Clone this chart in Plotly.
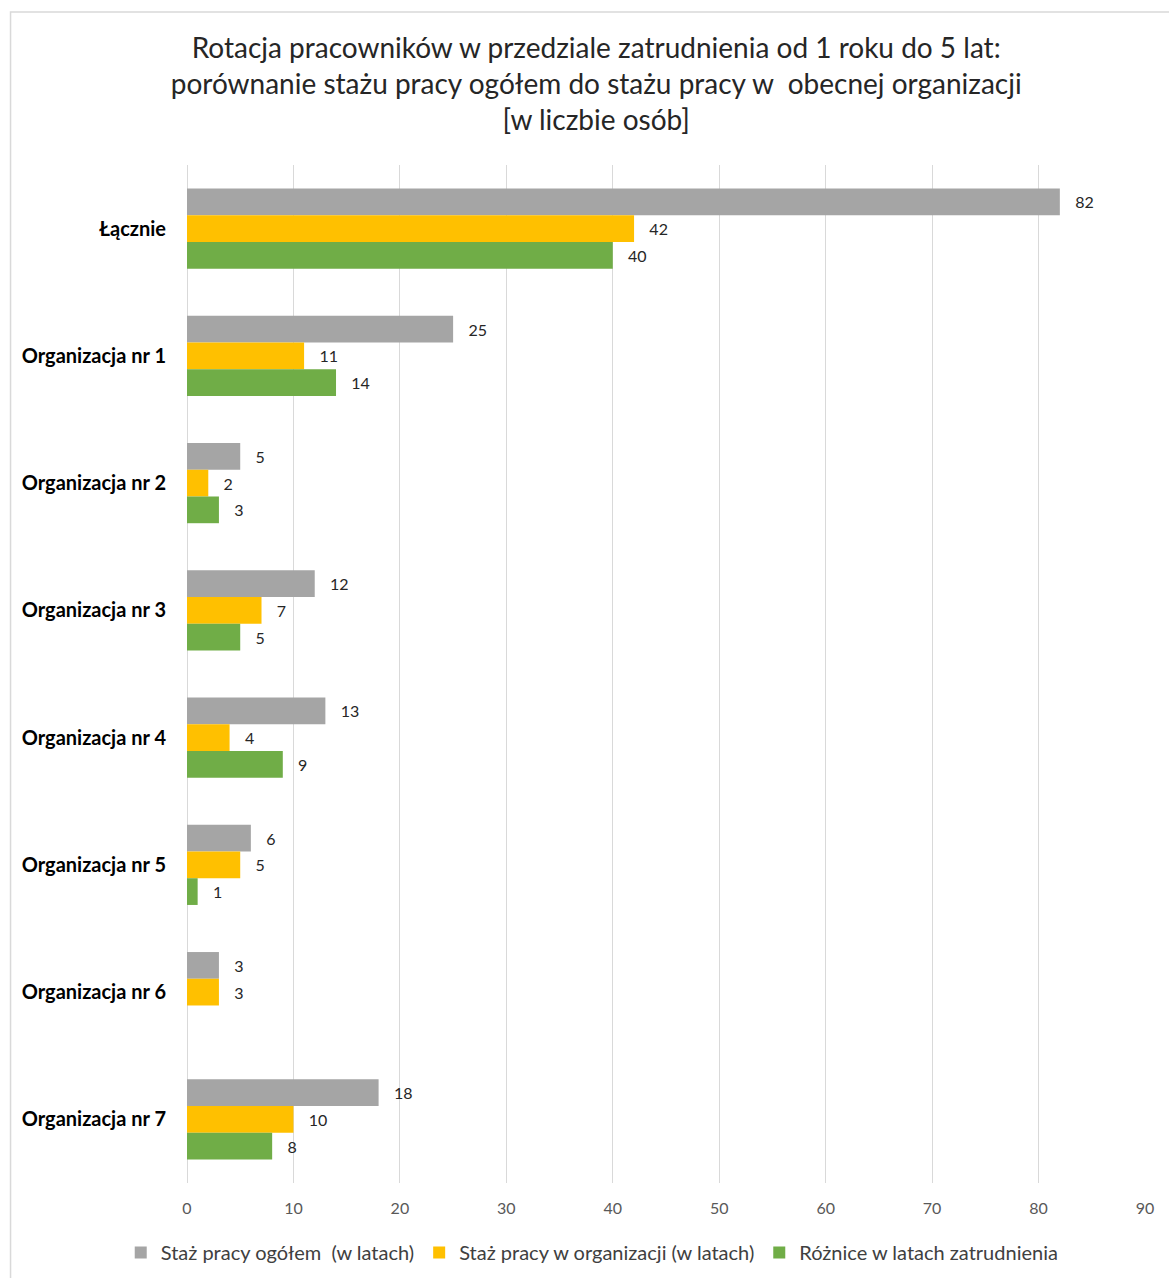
import plotly.graph_objects as go

categories = ["Łącznie", "Organizacja nr 1", "Organizacja nr 2", "Organizacja nr 3",
              "Organizacja nr 4", "Organizacja nr 5", "Organizacja nr 6", "Organizacja nr 7"]
staz_ogolem = [82, 25, 5, 12, 13, 6, 3, 18]
staz_w_organizacji = [42, 11, 2, 7, 4, 5, 3, 10]
roznice = [40, 14, 3, 5, 9, 1, None, 8]

series_names = ["Staż pracy ogółem  (w latach)",
                "Staż pracy w organizacji (w latach)",
                "Różnice w latach zatrudnienia"]
series_colors = ["#A5A5A5", "#FFC000", "#70AD47"]

FONT = "Lato, 'Open Sans', Arial, sans-serif"

fig = go.Figure()
for name, vals, col in zip(series_names, [staz_ogolem, staz_w_organizacji, roznice], series_colors):
    fig.add_trace(go.Bar(
        y=categories, x=vals, name=name, orientation="h",
        marker=dict(color=col, line=dict(width=0)),
        text=vals, texttemplate="   %{x}", textposition="outside",
        textfont=dict(family=FONT, size=16, color="#262626"),
        cliponaxis=False,
    ))

fig.update_layout(
    width=1169, height=1278,
    margin=dict(l=187, r=24, t=165, b=95, autoexpand=False),
    paper_bgcolor="white", plot_bgcolor="white",
    barmode="group", bargap=0.37, bargroupgap=0,
    title=dict(
        text="Rotacja pracowników w przedziale zatrudnienia od 1 roku do 5 lat:<br>"
             "porównanie stażu pracy ogółem do stażu pracy w  obecnej organizacji<br>"
             "[w liczbie osób]",
        x=0.51, xanchor="center", y=0.955, yanchor="top",
        font=dict(family=FONT, size=28, color="#262626"),
    ),
    font=dict(family=FONT),
    legend=dict(
        orientation="h", x=0.423, xanchor="center", y=-0.049, yanchor="top",
        font=dict(family=FONT, size=20, color="#404040"),
        traceorder="normal", itemwidth=30,
    ),
    xaxis=dict(
        range=[0, 90], dtick=10, tick0=0,
        showgrid=True, gridcolor="#D9D9D9", gridwidth=1,
        zeroline=True, zerolinecolor="#D9D9D9", zerolinewidth=1,
        showline=False, ticks="", automargin=False,
        tickfont=dict(family=FONT, size=16, color="#595959"),
        ticklabelstandoff=14,
    ),
    yaxis=dict(
        autorange="reversed", showgrid=False, showline=False, ticks="",
        automargin=False,
        tickfont=dict(family=FONT, size=20, color="#000000", weight="bold"),
        ticklabelstandoff=20,
    ),
)

# chart frame
fig.add_shape(type="rect", xref="paper", yref="paper",
              x0=-0.1842, x1=1.2, y0=-0.3, y1=1.1503,
              line=dict(color="#D9D9D9", width=1.5), fillcolor="rgba(0,0,0,0)", layer="below")

fig.write_html("out.html")
